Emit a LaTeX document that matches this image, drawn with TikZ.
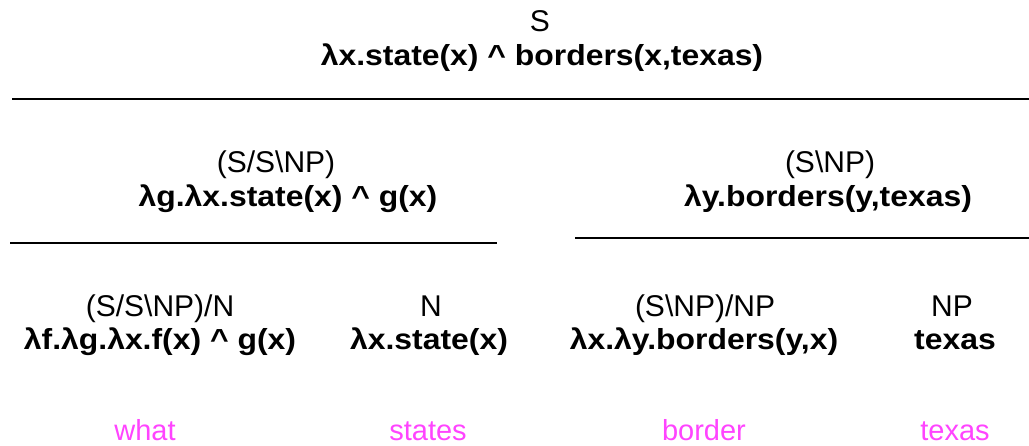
\documentclass[tikz,border=0pt]{standalone}
\usepackage{fontspec}
\setmainfont{Liberation Sans}
\newfontfamily\semfont[FakeStretch=1.1]{Liberation Sans}
\definecolor{wordpink}{RGB}{255,68,255}
\tikzset{
  cat/.style={inner sep=0pt, anchor=base, font=\fontsize{30}{33}\selectfont},
  sem/.style={inner sep=0pt, anchor=base, font=\fontsize{29}{32}\semfont\bfseries},
  word/.style={inner sep=0pt, anchor=base, text=wordpink, font=\fontsize{29}{32}\selectfont},
  rule/.style={line width=2.5pt, black}
}
\begin{document}
\begin{tikzpicture}[x=1pt,y=-1pt]
\useasboundingbox (0,0) rectangle (1029,446);
% top
\node[cat] (scat) at (540,32) {S};
\node[sem] (ssem) at (542,66) {λx.state(x) \^{} borders(x,texas)};
\coordinate (r1l) at (12,99);
\coordinate (r1r) at (1029,99);
\draw[rule] (r1l) -- (r1r);
% level 2
\node[cat] (lcat) at (276,173) {(S/S\textbackslash NP)};
\node[sem] (lsem) at (288,207) {λg.λx.state(x) \^{} g(x)};
\coordinate (r2l) at (10,243);
\coordinate (r2r) at (497,243);
\draw[rule] (r2l) -- (r2r);
\node[cat] (rcat) at (830,173) {(S\textbackslash NP)};
\node[sem] (rsem) at (828,207) {λy.borders(y,texas)};
\coordinate (r3l) at (575,238);
\coordinate (r3r) at (1029,238);
\draw[rule] (r3l) -- (r3r);
% level 3
\node[cat] (c1) at (160,317) {(S/S\textbackslash NP)/N};
\node[sem] (s1) at (160,350) {λf.λg.λx.f(x) \^{} g(x)};
\node[cat] (c2) at (431,317) {N};
\node[sem] (s2) at (429,350) {λx.state(x)};
\node[cat] (c3) at (705,317) {(S\textbackslash NP)/NP};
\node[sem] (s3) at (704,350) {λx.λy.borders(y,x)};
\node[cat] (c4) at (952,317) {NP};
\node[sem] (s4) at (955,350) {texas};
% words
\node[word] (w1) at (145,441) {what};
\node[word] (w2) at (428,441) {states};
\node[word] (w3) at (704,441) {border};
\node[word] (w4) at (955,441) {texas};
\end{tikzpicture}
\end{document}
